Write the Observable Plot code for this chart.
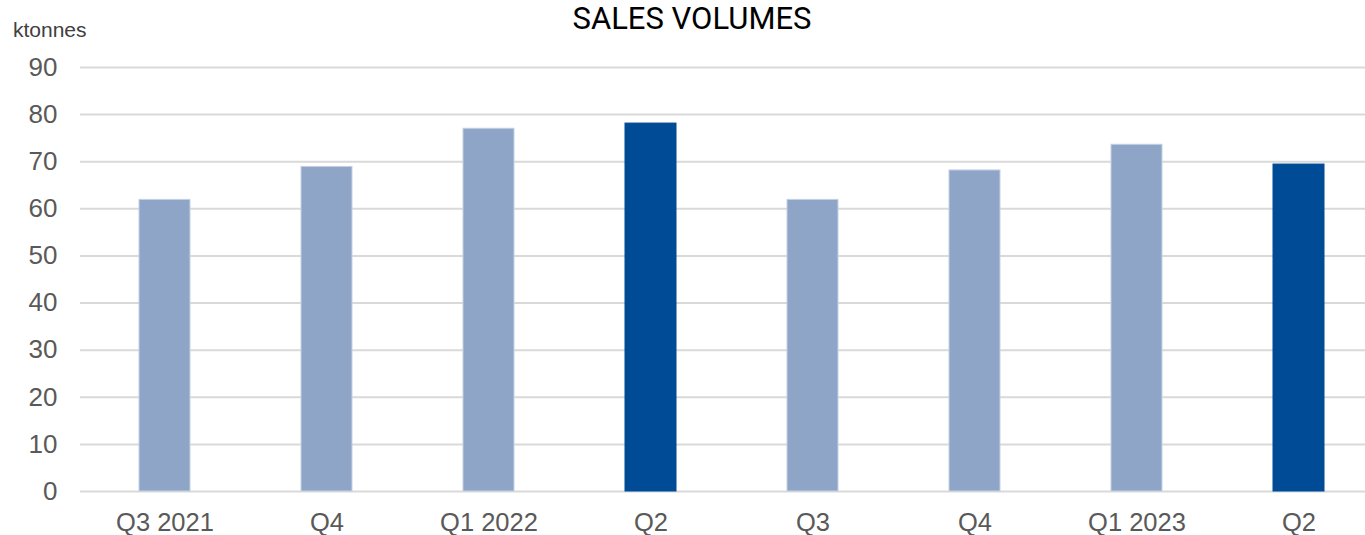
<!DOCTYPE html>
<html>
<head>
<meta charset="utf-8">
<script src="https://cdn.jsdelivr.net/npm/d3@7"></script>
<script src="https://cdn.jsdelivr.net/npm/@observablehq/plot@0.6"></script>
<style>
  html, body { margin: 0; padding: 0; background: #fff; }
  #wrap { position: relative; width: 1365px; height: 535px; overflow: hidden; }
  #title { position: absolute; left: 19px; width: 1346px; top: 1px; text-align: center;
           font-family: Roboto, sans-serif; font-size: 31px; color: #000; line-height: 36px; }
  #unit { position: absolute; left: 13px; top: 18px; font-family: "Liberation Sans", Arial, sans-serif;
          font-size: 21px; color: #404040; }
</style>
</head>
<body>
<div id="wrap">
  <div id="chart"></div>
  <div id="title">SALES VOLUMES</div>
  <div id="unit">ktonnes</div>
</div>
<script>
const categories = ["Q3 2021", "Q4 ", "Q1 2022", "Q2 ", "Q3", "Q4", "Q1 2023", "Q2"];
const labels = ["Q3 2021", "Q4", "Q1 2022", "Q2", "Q3", "Q4", "Q1 2023", "Q2"];
const values = [61.9, 68.9, 77.0, 78.1, 61.9, 68.15, 73.6, 69.4];
const highlight = [false, false, false, true, false, false, false, true];
const yTicks = [0, 10, 20, 30, 40, 50, 60, 70, 80, 90];

const data = categories.map((c, i) => ({cat: c, label: labels[i], value: values[i], hi: highlight[i]}));

const plot = Plot.plot({
  width: 1365,
  height: 535,
  marginTop: 67,
  marginBottom: 44,
  marginLeft: 80,
  marginRight: 0,
  style: {fontFamily: "'Liberation Sans', Arial, sans-serif", background: "#fff", overflow: "visible"},
  x: {domain: categories, range: [80, 1382], paddingInner: 0.686, paddingOuter: 0.343, align: 0.5, label: null},
  y: {domain: [0, 90], label: null},
  marks: [
    Plot.ruleY(yTicks, {stroke: "#d9d9d9", strokeWidth: 2}),
    Plot.barY(data, {
      x: "cat", y: "value",
      fill: d => d.hi ? "#004b96" : "#8fa5c7",
      stroke: d => d.hi ? "#004b96" : "#c5d1e3",
      strokeWidth: 1
    }),
    Plot.axisY({ticks: yTicks, tickSize: 0, tickPadding: 23, fontSize: 26, fill: "#595959", label: null}),
    Plot.axisX({tickSize: 0, tickPadding: 21, fontSize: 25.5, fill: "#595959", label: null,
                tickFormat: (d, i) => labels[i]})
  ]
});
document.getElementById("chart").appendChild(plot);
</script>
</body>
</html>
